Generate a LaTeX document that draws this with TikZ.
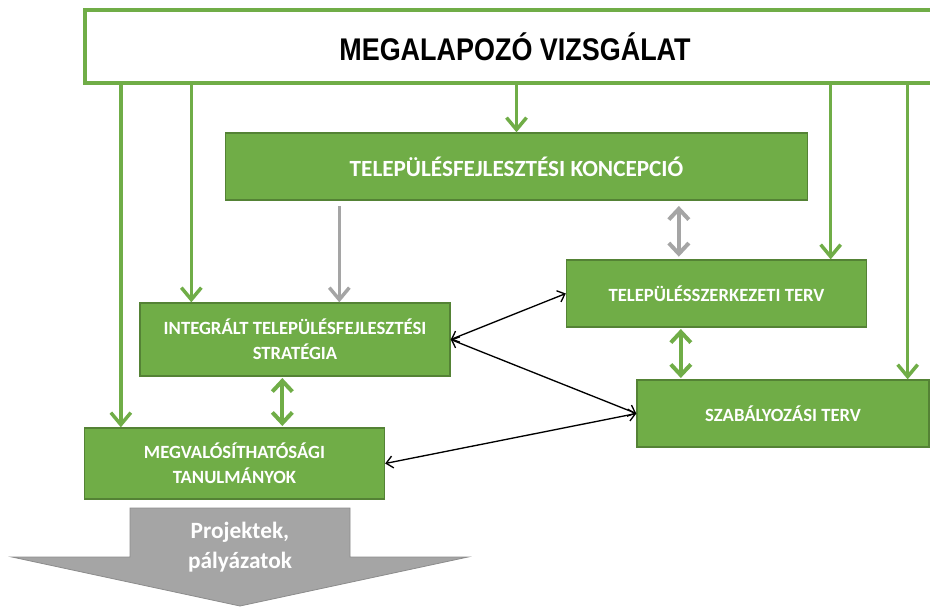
\documentclass[tikz,border=0pt]{standalone}
\usepackage{fontspec}
\setmainfont{Carlito}
\newfontfamily\headfont[FakeStretch=0.86]{Liberation Sans}
\usepackage{tikz}
\usetikzlibrary{calc}
\usetikzlibrary{arrows.meta}
\definecolor{zold}{HTML}{70AD47}
\definecolor{zoldkeret}{HTML}{548235}
\definecolor{szurke}{HTML}{A5A5A5}
\definecolor{szurkekeret}{HTML}{8C8C8C}
\tikzset{
  gbox/.style={draw=zoldkeret, line width=1pt, fill=zold, text=white, align=center, inner sep=0pt,
    font=\bfseries\fontsize{14}{19}\selectfont},
  garrow/.style={draw=zold, line width=2.6pt, -{Straight Barb[length=9pt,width=15pt]}},
  gdouble/.style={draw=zold, line width=3pt, {Straight Barb[length=8pt,width=15pt]}-{Straight Barb[length=8pt,width=15pt]}},
  sarrow/.style={draw=szurke, line width=2.6pt, -{Straight Barb[length=9pt,width=15pt]}},
  sdouble/.style={draw=szurke, line width=3pt, {Straight Barb[length=8pt,width=15pt]}-{Straight Barb[length=8pt,width=15pt]}},
  karrow/.style={draw=black, line width=1pt, {Straight Barb[length=5pt,width=9pt]}-{Straight Barb[length=5pt,width=9pt]}}
}

\begin{document}
\begin{tikzpicture}[x=0.75pt, y=-0.75pt]
        \clip (0,0) rectangle (930,606);
        \fill[white] (0,0) rectangle (930,606);
        % boxes
        \node[draw=zold, line width=3pt, fill=white, minimum width=645pt, minimum height=54.75pt,
              font=\headfont\bfseries\fontsize{23.5}{28}\selectfont] (top) at (515,46.5) {MEGALAPOZÓ VIZSGÁLAT};
        \node[gbox, minimum width=436.5pt, minimum height=50.25pt, font=\bfseries\fontsize{17.4}{20}\selectfont]
              (konc) at (516.5,166.5) {TELEPÜLÉSFEJLESZTÉSI KONCEPCIÓ};
        \node[gbox, minimum width=232.5pt, minimum height=54.75pt] (its) at (295,339.5)
              {INTEGRÁLT TELEPÜLÉSFEJLESZTÉSI\\STRATÉGIA};
        \node[gbox, minimum width=225pt, minimum height=50.25pt] (tszt) at (716.5,293.5) {TELEPÜLÉSSZERKEZETI TERV};
        \node[gbox, minimum width=219pt, minimum height=50.25pt] (szab) at (783,413.5) {SZABÁLYOZÁSI TERV};
        \node[gbox, minimum width=225pt, minimum height=53.25pt] (megv) at (234.5,463.5)
              {MEGVALÓSÍTHATÓSÁGI\\TANULMÁNYOK};
        % projects arrow
        \draw[fill=szurke, draw=szurkekeret, line width=0.6pt]
              (130,508) -- (350,508) -- (350,557) -- (468,557) -- (240,606) -- (12,557) -- (130,557) -- cycle;
        \node[text=white, align=center, font=\bfseries\fontsize{17.5}{23}\selectfont] (proj) at (240,547)
              {Projektek,\\pályázatok};
        % points for the vertical arrows
        \coordinate (a1) at ($(megv.north west)+(37,0)$);
        \coordinate (a2) at ($(its.north west)+(52,0)$);
        \coordinate (a4) at ($(tszt.north east)+(-36.5,0)$);
        \coordinate (a5) at ($(szab.north east)+(-22,0)$);
        \coordinate (s1) at ($(its.north west)+(200,0)$);
        \coordinate (s2) at ($(tszt.north west)+(113,0)$);
        \coordinate (d1) at ($(tszt.south west)+(115,0)$);
        \coordinate (d2) at ($(its.south west)+(143,0)$);
        % green arrows from the top box
        \draw[garrow] (a1 |- top.south) -- (a1);
        \draw[garrow] (a2 |- top.south) -- (a2);
        \draw[garrow] (top.south -| konc.north) -- (konc.north);
        \draw[garrow] (a4 |- top.south) -- (a4);
        \draw[garrow] (a5 |- top.south) -- (a5);
        % gray arrows
        \draw[sarrow, shorten <=4pt] (s1 |- konc.south) -- (s1);
        \draw[sdouble, shorten <=4pt, shorten >=2pt] (s2 |- konc.south) -- (s2);
        % green double arrows
        \draw[gdouble, shorten <=1pt, shorten >=1pt] (d1) -- (d1 |- szab.north);
        \draw[gdouble, shorten <=1pt, shorten >=1pt] (d2) -- (d2 |- megv.north);
        % black arrows
        \draw[karrow] (its.east) -- (tszt.west);
        \draw[karrow] (its.east) -- (szab.west);
        \draw[karrow] (szab.west) -- (megv.east);
    \end{tikzpicture}
\end{document}
